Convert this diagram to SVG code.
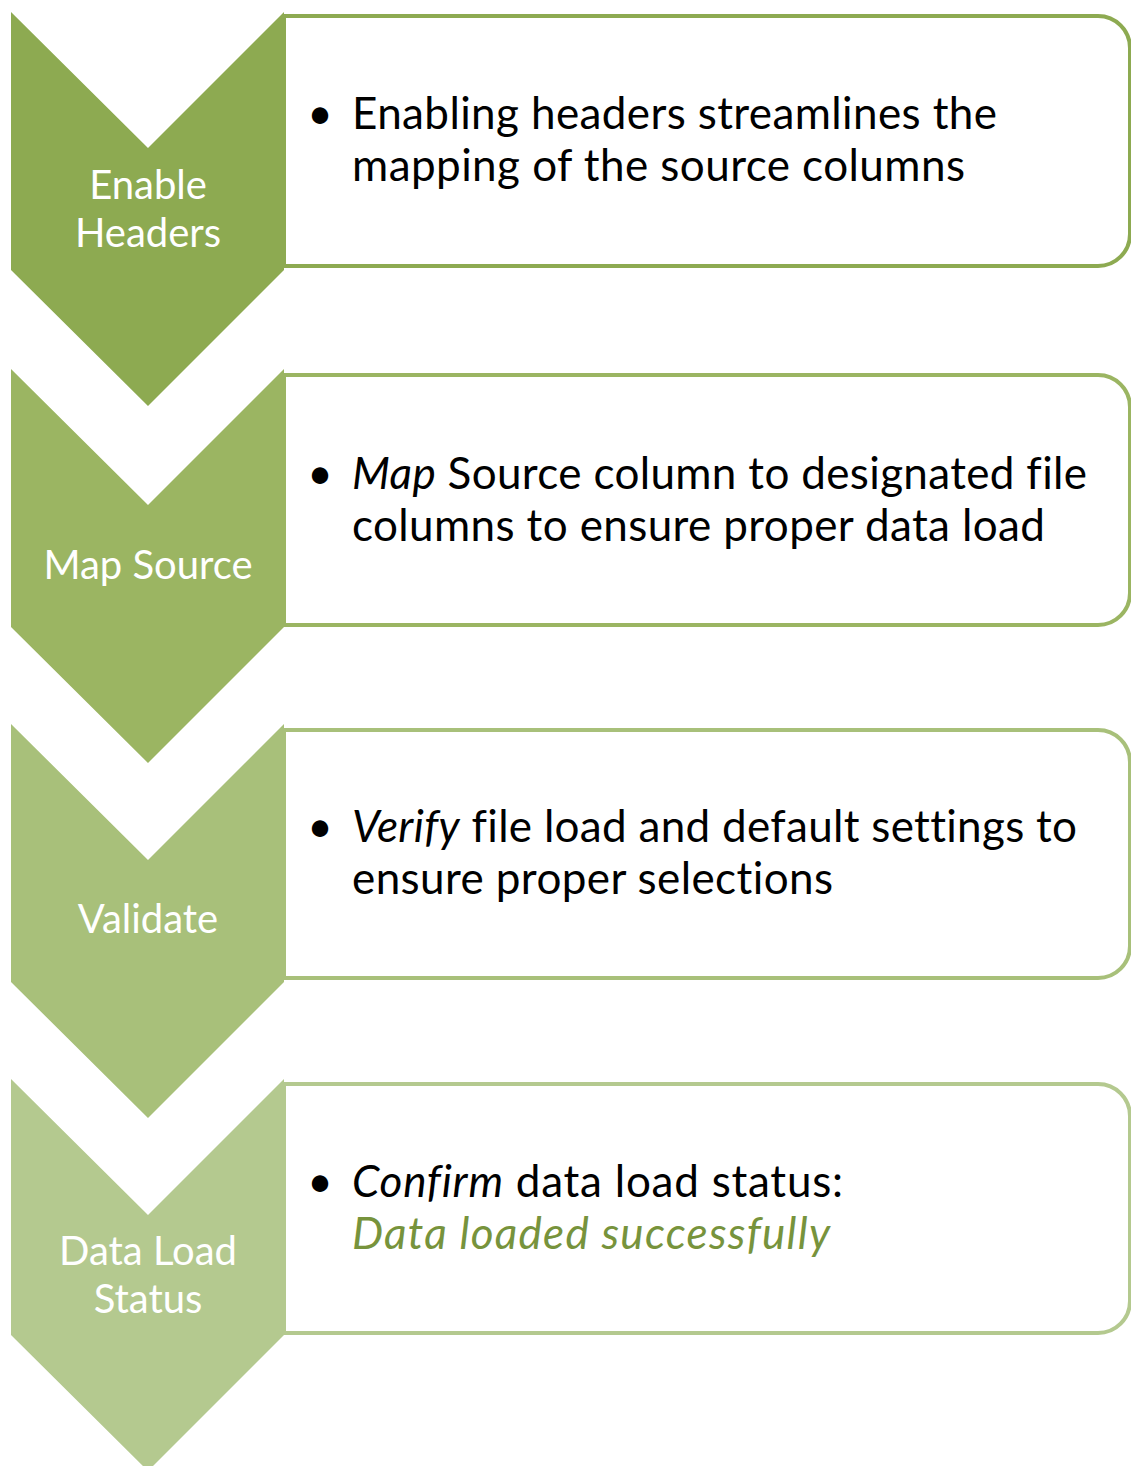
<svg xmlns="http://www.w3.org/2000/svg" width="1131" height="1466" viewBox="0 0 1131 1466">
  <style>
    text { font-variant-ligatures: none; font-feature-settings: "liga" 0, "dlig" 0; }
    .box { fill: #ffffff; stroke-width: 4; }
    .lbl { font-family: Lato, "Open Sans", sans-serif; font-size: 40px; fill: #ffffff; text-anchor: middle; }
    .txt { font-family: Lato, "Open Sans", sans-serif; font-size: 44px; fill: #000000; }
    .bul { font-family: Lato, "Open Sans", sans-serif; font-size: 44px; fill: #000000; text-anchor: middle; }
    .it { font-style: italic; }
    .grn { fill: #77933C; }
  </style>
  <rect width="1131" height="1466" fill="#ffffff"/>

  <g id="step1">
    <path class="box" stroke="#8DAA51" d="M284,16 H1098 A32,32 0 0 1 1130,48 V234 A32,32 0 0 1 1098,266 H284 Z"/>
    <polygon fill="#8DAA51" points="11,12 148,148 284,12 284,270 148,406 11,270"/>
    <text class="lbl" x="148" y="199">Enable</text>
    <text class="lbl" x="148" y="247">Headers</text>
    <text class="bul" x="320" y="129">•</text>
    <text class="txt" x="352" y="129" textLength="645" lengthAdjust="spacing">Enabling headers streamlines the</text>
    <text class="txt" x="352" y="181" textLength="613" lengthAdjust="spacing">mapping of the source columns</text>
  </g>

  <g id="step2">
    <path class="box" stroke="#9BB562" d="M284,375 H1098 A32,32 0 0 1 1130,407 V593 A32,32 0 0 1 1098,625 H284 Z"/>
    <polygon fill="#9BB562" points="11,369 148,505 284,369 284,627 148,763 11,627"/>
    <text class="lbl" x="148" y="579">Map Source</text>
    <text class="bul" x="320" y="489">•</text>
    <text class="txt" x="352" y="489" textLength="735" lengthAdjust="spacing"><tspan class="it">Map</tspan> Source column to designated file</text>
    <text class="txt" x="352" y="541" textLength="693" lengthAdjust="spacing">columns to ensure proper data load</text>
  </g>

  <g id="step3">
    <path class="box" stroke="#A8C07A" d="M284,730 H1098 A32,32 0 0 1 1130,762 V946 A32,32 0 0 1 1098,978 H284 Z"/>
    <polygon fill="#A8C07A" points="11,724 148,860 284,724 284,982 148,1118 11,982"/>
    <text class="lbl" x="148" y="933">Validate</text>
    <text class="bul" x="320" y="842">•</text>
    <text class="txt" x="352" y="842" textLength="725" lengthAdjust="spacing"><tspan class="it">Verify</tspan> file load and default settings to</text>
    <text class="txt" x="352" y="894" textLength="481" lengthAdjust="spacing">ensure proper selections</text>
  </g>

  <g id="step4">
    <path class="box" stroke="#B4C98F" d="M284,1084 H1098 A32,32 0 0 1 1130,1116 V1301 A32,32 0 0 1 1098,1333 H284 Z"/>
    <polygon fill="#B4C98F" points="11,1079 148,1215 284,1079 284,1335 148,1471 11,1335"/>
    <text class="lbl" x="148" y="1265">Data Load</text>
    <text class="lbl" x="148" y="1313">Status</text>
    <text class="bul" x="320" y="1197">•</text>
    <text class="txt" x="352" y="1197" textLength="491" lengthAdjust="spacing"><tspan class="it">Confirm</tspan> data load status:</text>
    <text class="txt it grn" x="352" y="1249" textLength="478" lengthAdjust="spacing">Data loaded successfully</text>
  </g>
</svg>
